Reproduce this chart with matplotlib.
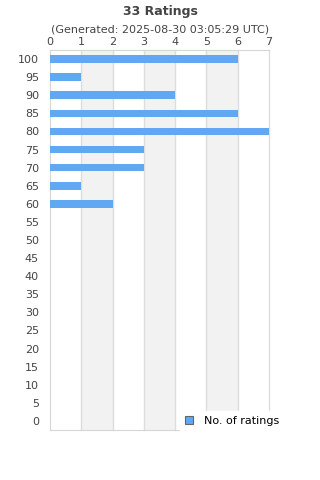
import matplotlib
matplotlib.use("Agg")
import matplotlib.pyplot as plt
from matplotlib.patches import Patch

categories = [100, 95, 90, 85, 80, 75, 70, 65, 60, 55, 50, 45, 40, 35, 30, 25, 20, 15, 10, 5, 0]
counts = [6, 1, 4, 6, 7, 3, 3, 1, 2, 0, 0, 0, 0, 0, 0, 0, 0, 0, 0, 0, 0]
x_ticks = [0, 1, 2, 3, 4, 5, 6, 7]

bar_color = "#60a8f2"
text_color = "#444444"

fig = plt.figure(figsize=(3.2, 4.8), dpi=100)
ax = fig.add_axes([50/320, 1-430/480, 219/320, 380/480])

ypos = list(range(len(categories)))
ax.barh(ypos, counts, height=0.42, color=bar_color, zorder=3)
ax.set_ylim(len(categories) - 0.5, -0.5)
ax.set_xlim(0, 7)

for k in range(1, 7, 2):
    ax.axvspan(k, k + 1, color="#f2f2f2", zorder=0, lw=0)
for t in x_ticks[1:]:
    ax.axvline(t, color="#dddddd", lw=1, zorder=1, clip_on=False)

ax.set_yticks(ypos)
ax.set_yticklabels([str(c) for c in categories])
ax.set_xticks(x_ticks)
ax.xaxis.tick_top()
ax.tick_params(axis="both", length=0, labelsize=8, colors=text_color)
ax.tick_params(axis="y", pad=8)
ax.tick_params(axis="x", pad=2)
for side in ["left", "bottom", "top"]:
    ax.spines[side].set_color("#d6d6d6")
ax.spines["right"].set_visible(False)

fig.text(0.5, 1-11/480, "33 Ratings", ha="center", va="center", fontsize=9,
         fontweight="bold", color=text_color)
fig.text(0.5, 1-30/480, "(Generated: 2025-08-30 03:05:29 UTC)", ha="center", va="center",
         fontsize=8, color=text_color)

handle = Patch(facecolor=bar_color, edgecolor="#666666", linewidth=0.8)
leg = fig.legend([handle], ["No. of ratings"], loc="center left",
                 bbox_to_anchor=(180/320, 1-421/480), frameon=True,
                 fontsize=8, handlelength=0.7, handleheight=0.7, handletextpad=1.0,
                 borderpad=0.45, borderaxespad=0.0, fancybox=False)
leg.get_frame().set_facecolor("white")
leg.get_frame().set_edgecolor("white")
leg.get_frame().set_alpha(1)

fig.savefig("out.png", dpi=100)
